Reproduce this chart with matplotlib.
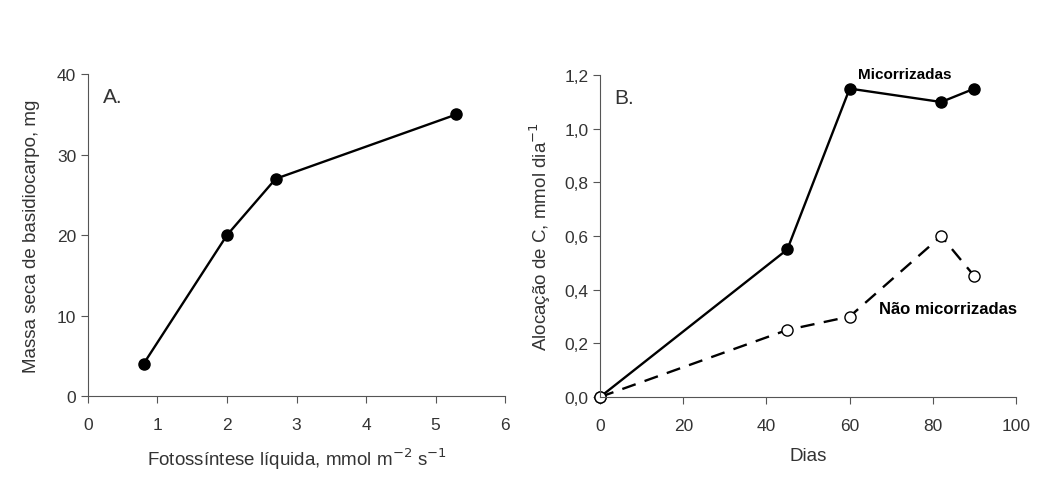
import matplotlib.pyplot as plt
from matplotlib.ticker import FuncFormatter

plt.rcParams['font.family'] = ['Liberation Sans', 'DejaVu Sans']

# Panel A data
fotossintese = [0.8, 2.0, 2.7, 5.3]
massa_seca = [4, 20, 27, 35]

# Panel B data
dias = [0, 45, 60, 82, 90]
micorrizadas = [0.0, 0.55, 1.15, 1.10, 1.15]
nao_micorrizadas = [0.0, 0.25, 0.30, 0.60, 0.45]

fig = plt.figure(figsize=(10.4, 4.81), dpi=100)
axA = fig.add_axes([0.0846, 0.1746, 0.401, 0.669])
axB = fig.add_axes([0.577, 0.1726, 0.400, 0.669])

for ax in (axA, axB):
    ax.spines['top'].set_visible(False)
    ax.spines['right'].set_visible(False)
    ax.spines['left'].set_color('#555555')
    ax.spines['bottom'].set_color('#555555')
    ax.tick_params(direction='out', length=5, color='#555555',
                   labelsize=12.5, labelcolor='#333333')
    ax.tick_params(axis='x', pad=10)

# Panel A
axA.plot(fotossintese, massa_seca, color='black', lw=1.7, marker='o',
         markersize=8, markerfacecolor='black', clip_on=False)
axA.set_xlim(0, 6)
axA.set_ylim(0, 40)
axA.set_xticks(range(0, 7))
axA.set_yticks(range(0, 41, 10))
axA.set_xlabel('Fotossíntese líquida, mmol m$^{-2}$ s$^{-1}$', fontsize=13.5,
               color='#333333', labelpad=10)
axA.set_ylabel('Massa seca de basidiocarpo, mg', fontsize=13.5,
               color='#333333', labelpad=12)
axA.text(0.035, 0.93, 'A.', transform=axA.transAxes, fontsize=15,
         ha='left', va='center', color='#333333')

# Panel B
axB.plot(dias, micorrizadas, color='black', lw=1.7, marker='o',
         markersize=8, markerfacecolor='black', clip_on=False)
axB.plot(dias, nao_micorrizadas, color='black', lw=1.7, ls=(0, (6, 4)),
         marker='o', markersize=8, markerfacecolor='white',
         markeredgecolor='black', clip_on=False)
axB.set_xlim(0, 100)
axB.set_ylim(0, 1.2)
axB.set_xticks(range(0, 101, 20))
axB.set_yticks([0, 0.2, 0.4, 0.6, 0.8, 1.0, 1.2])
axB.yaxis.set_major_formatter(FuncFormatter(lambda v, p: f'{v:.1f}'.replace('.', ',')))
axB.set_xlabel('Dias', fontsize=13.5, color='#333333', labelpad=10)
axB.set_ylabel('Alocação de C, mmol dia$^{-1}$', fontsize=13.5,
               color='#333333', labelpad=8)
axB.text(0.035, 0.93, 'B.', transform=axB.transAxes, fontsize=15,
         ha='left', va='center', color='#333333')
axB.text(62, 1.18, 'Micorrizadas', fontsize=11, fontweight='bold',
         ha='left', va='bottom')
axB.text(67, 0.33, 'Não micorrizadas', fontsize=12, fontweight='bold',
         ha='left', va='center')

fig.savefig('out.png', dpi=100)
